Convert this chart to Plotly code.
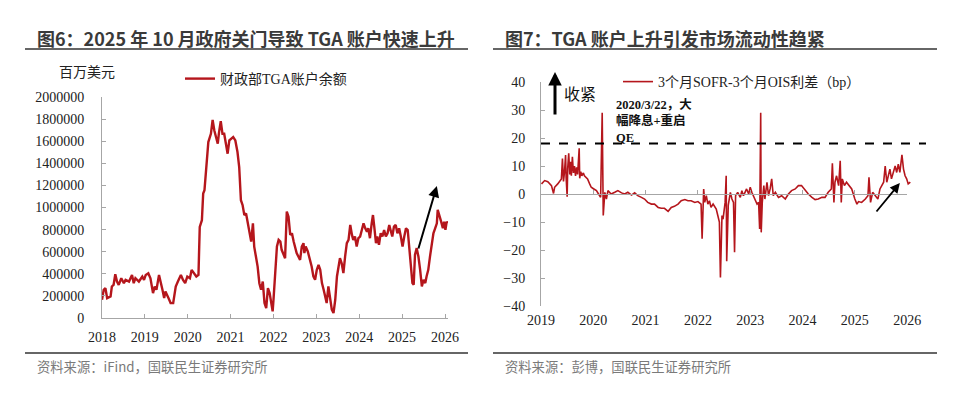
import plotly.graph_objects as go

# ---------------- data ----------------
TGA_X = [2018.00, 2018.04, 2018.08, 2018.12, 2018.20, 2018.23, 2018.27, 2018.31, 2018.35, 2018.39,
         2018.45, 2018.51, 2018.55, 2018.63, 2018.70, 2018.74, 2018.78, 2018.86, 2018.94, 2018.98,
         2019.02, 2019.08, 2019.13, 2019.19, 2019.23, 2019.27, 2019.33, 2019.37, 2019.41, 2019.45,
         2019.48, 2019.55, 2019.60, 2019.66, 2019.72, 2019.77, 2019.84, 2019.89, 2019.94, 2019.99,
         2020.05, 2020.09, 2020.15, 2020.20, 2020.25, 2020.28, 2020.33, 2020.36, 2020.39, 2020.44,
         2020.48, 2020.54, 2020.58, 2020.62, 2020.66, 2020.70, 2020.73, 2020.77, 2020.81, 2020.85,
         2020.89, 2020.93, 2020.97, 2021.01, 2021.06, 2021.11, 2021.16, 2021.20, 2021.24, 2021.28,
         2021.32, 2021.36, 2021.40, 2021.44, 2021.48, 2021.52, 2021.55, 2021.59, 2021.63, 2021.67,
         2021.71, 2021.75, 2021.79, 2021.83, 2021.87, 2021.91, 2021.95, 2021.98, 2022.00, 2022.04,
         2022.08, 2022.12, 2022.16, 2022.19, 2022.23, 2022.27, 2022.31, 2022.35, 2022.39, 2022.43,
         2022.47, 2022.51, 2022.54, 2022.58, 2022.62, 2022.66, 2022.70, 2022.72, 2022.75, 2022.80,
         2022.85, 2022.89, 2022.93, 2022.97, 2023.01, 2023.05, 2023.09, 2023.13, 2023.17, 2023.20,
         2023.24, 2023.28, 2023.32, 2023.36, 2023.40, 2023.44, 2023.48, 2023.52, 2023.55, 2023.59,
         2023.63, 2023.67, 2023.71, 2023.75, 2023.79, 2023.83, 2023.86, 2023.90, 2023.94, 2023.98,
         2024.02, 2024.06, 2024.10, 2024.14, 2024.18, 2024.21, 2024.25, 2024.29, 2024.32, 2024.35,
         2024.39, 2024.42, 2024.46, 2024.50, 2024.54, 2024.58, 2024.62, 2024.66, 2024.70, 2024.73,
         2024.77, 2024.81, 2024.85, 2024.89, 2024.93, 2024.97, 2025.01, 2025.05, 2025.09, 2025.13,
         2025.16, 2025.20, 2025.24, 2025.27, 2025.30, 2025.34, 2025.38, 2025.42, 2025.46, 2025.50,
         2025.54, 2025.57, 2025.61, 2025.65, 2025.69, 2025.73, 2025.77, 2025.81, 2025.83, 2025.87,
         2025.91, 2025.95, 2025.98, 2026.01, 2026.04, 2026.06]
TGA_Y = [165000, 255000, 270000, 180000, 195000, 285000, 300000, 396000, 330000, 300000,
         360000, 315000, 345000, 330000, 390000, 315000, 360000, 330000, 375000, 345000,
         390000, 405000, 360000, 225000, 285000, 255000, 390000, 330000, 255000, 180000,
         240000, 180000, 135000, 135000, 285000, 330000, 390000, 345000, 315000, 375000,
         360000, 435000, 405000, 375000, 390000, 825000, 885000, 1126000, 1156000, 1366000,
         1592000, 1667000, 1793000, 1697000, 1637000, 1577000, 1682000, 1781000, 1667000, 1667000,
         1577000, 1487000, 1607000, 1622000, 1637000, 1607000, 1502000, 1366000, 1066000, 1021000,
         931000, 946000, 856000, 796000, 691000, 856000, 646000, 556000, 465000, 315000,
         255000, 330000, 135000, 90000, 270000, 225000, 105000, 60000, 165000, 436000,
         647000, 707000, 692000, 617000, 572000, 541000, 963000, 917000, 752000, 767000,
         692000, 632000, 587000, 556000, 526000, 647000, 677000, 587000, 647000, 602000,
         526000, 466000, 376000, 346000, 436000, 481000, 436000, 316000, 256000, 196000,
         135000, 286000, 196000, 75000, 45000, 165000, 376000, 496000, 541000, 496000,
         406000, 556000, 677000, 707000, 842000, 752000, 707000, 737000, 647000, 722000,
         737000, 797000, 857000, 812000, 782000, 812000, 722000, 857000, 932000, 827000,
         677000, 737000, 662000, 767000, 737000, 797000, 737000, 767000, 842000, 797000,
         737000, 827000, 842000, 767000, 812000, 737000, 647000, 737000, 812000, 797000,
         647000, 466000, 316000, 301000, 572000, 632000, 556000, 436000, 286000, 346000,
         316000, 376000, 436000, 556000, 647000, 767000, 812000, 857000, 978000, 932000,
         872000, 812000, 872000, 797000, 872000, 857000]

SPREAD_X = [2019.01, 2019.07, 2019.13, 2019.20, 2019.24, 2019.26, 2019.32,
            2019.39, 2019.41, 2019.43, 2019.45, 2019.47, 2019.48, 2019.50, 2019.51, 2019.53, 2019.55,
            2019.57, 2019.58, 2019.60, 2019.62, 2019.64, 2019.66, 2019.68, 2019.70, 2019.73, 2019.74,
            2019.76, 2019.78, 2019.81, 2019.83,
            2019.89, 2019.93, 2019.96, 2020.01, 2020.06, 2020.10, 2020.14,
            2020.17, 2020.19, 2020.22, 2020.25, 2020.28, 2020.34, 2020.41, 2020.47, 2020.54, 2020.60,
            2020.66, 2020.73, 2020.79, 2020.85, 2020.92, 2020.98, 2021.04, 2021.11, 2021.17, 2021.24,
            2021.30, 2021.36, 2021.43, 2021.49, 2021.55, 2021.62, 2021.68, 2021.75, 2021.81, 2021.87,
            2021.94, 2022.00, 2022.06, 2022.08, 2022.11, 2022.13, 2022.16, 2022.19, 2022.22, 2022.25,
            2022.29, 2022.32, 2022.35, 2022.38, 2022.41, 2022.43, 2022.46, 2022.48, 2022.52, 2022.54,
            2022.55, 2022.58, 2022.62, 2022.65, 2022.68, 2022.70, 2022.72, 2022.76, 2022.81, 2022.84,
            2022.87, 2022.90, 2022.93, 2022.97, 2023.00, 2023.03, 2023.06, 2023.09, 2023.13, 2023.16,
            2023.18, 2023.20, 2023.21, 2023.23, 2023.26, 2023.28, 2023.32, 2023.35, 2023.38, 2023.41,
            2023.44, 2023.48, 2023.54, 2023.60, 2023.67, 2023.73, 2023.79, 2023.86, 2023.92, 2023.98,
            2024.05, 2024.11, 2024.18, 2024.24, 2024.30, 2024.37, 2024.43, 2024.49, 2024.55, 2024.57,
            2024.60, 2024.62, 2024.65, 2024.69, 2024.72, 2024.74, 2024.76, 2024.80, 2024.84, 2024.89,
            2024.94, 2025.00, 2025.04, 2025.07, 2025.13, 2025.20, 2025.25, 2025.27, 2025.30, 2025.34,
            2025.39, 2025.44, 2025.48, 2025.51, 2025.55, 2025.58, 2025.61, 2025.64, 2025.67, 2025.70,
            2025.74, 2025.77, 2025.80, 2025.83, 2025.86, 2025.90, 2025.93, 2025.96, 2025.99, 2026.02,
            2026.06]
SPREAD_Y = [3.6, 4.8, 4.4, 3.0, 0.2, 2.4, 3.6,
            5.4, 12.7, 4.5, 8.0, 13.9, 6.0, -1.0, 9.0, 14.5, 7.0,
            11.5, 6.5, 13.3, 7.5, 10.0, 6.5, 9.5, 7.0, 16.3, 5.6,
            8.0, 6.5, 7.5, 6.5,
            5.4, 3.6, 2.4, 1.8, 1.2, 0.0, -1.2,
            29.0, -7.7, 0.6, -1.8, 1.2, 0.0, 0.6, 1.2, 0.4, 0.0,
            0.6, -0.4, 0.4, -0.6, -1.2, -1.8, -3.0, -3.6, -3.6, -4.8,
            -5.1, -5.1, -6.2, -4.8, -4.4, -3.6, -2.4, -2.0, -2.4, -2.4,
            -3.0, -2.7, -3.6, -16.0, 1.8, -3.0, -0.6, -3.6, -2.4, -4.8,
            -3.6, -4.8, -5.4, -7.7, -10.0, -29.8, -7.7, -9.0, -3.0, 6.5,
            -24.0, -4.0, 0.6, -1.8, -3.0, -20.8, -0.6, 0.6, -1.2, 1.2,
            -0.6, 0.6, 1.8, 0.0, 2.4, 0.6, -0.6, -2.4, -3.6, -3.0,
            -12.5, 29.0, -13.7, -3.0, 3.0, -1.8, 4.2, -0.6, 1.8, 5.4,
            -0.6, 0.6, -1.2, -0.6, -1.8, 0.0, 1.2, 1.8, 3.0, 3.0,
            1.2, 0.0, -1.2, -2.0, -1.8, -1.2, -1.2, 0.6, 1.8, 11.0,
            -3.0, 4.2, 6.5, 3.0, 11.9, -3.0, 5.4, 3.0, 4.2, 3.0,
            1.8, -1.8, -3.6, -2.7, -3.0, -1.8, -0.6, 6.0, -3.0, 0.6,
            -0.6, -1.8, 1.8, 3.0, 4.2, 10.0, 4.2, 6.5, 8.9, 5.4,
            8.3, 10.0, 7.7, 10.7, 7.7, 14.0, 8.9, 6.5, 5.4, 3.6,
            4.2]
SPREAD_REF = 18          # dashed reference level
SPREAD_REF_X = [2019, 2026.36]

YEARS_L = [2018, 2019, 2020, 2021, 2022, 2023, 2024, 2025, 2026]
YEARS_R = [2019, 2020, 2021, 2022, 2023, 2024, 2025, 2026]

# arrows (data coordinates)
ARROW_L = dict(x0=2025.37, y0=615000, x1=2025.81, y1=1194000)
ARROW_R = dict(x0=2025.39, y0=-6.8, x1=2025.86, y1=3.9)

# ---------------- style ----------------
W, H = 974, 398
def px(x):
    return x / W
def py(y):
    return 1 - y / H

RED = "#B5161C"
AXC = "#A6A6A6"
SERIF = "Liberation Serif, Noto Sans CJK SC"
SANS = "Noto Sans CJK SC"
TICKFONT = dict(family=SERIF, size=14, color="#222222")

fig = go.Figure()

fig.add_trace(go.Scatter(x=TGA_X, y=TGA_Y, mode="lines", name="财政部TGA账户余额",
                         line=dict(color=RED, width=2.4), xaxis="x", yaxis="y",
                         legend="legend"))
fig.add_trace(go.Scatter(x=SPREAD_X, y=SPREAD_Y, mode="lines", name="3个月SOFR-3个月OIS利差（bp）",
                         line=dict(color=RED, width=1.6), xaxis="x2", yaxis="y2",
                         legend="legend2"))
fig.add_trace(go.Scatter(x=SPREAD_REF_X, y=[SPREAD_REF, SPREAD_REF], mode="lines",
                         line=dict(color="black", width=2, dash="dash"), xaxis="x2", yaxis="y2",
                         showlegend=False, hoverinfo="skip"))
# carrier trace for the zero axis of the right chart
fig.add_trace(go.Scatter(x=[YEARS_R[0], YEARS_R[-1]], y=[0, 0], mode="lines",
                         line=dict(color=AXC, width=1), opacity=0, xaxis="x3", yaxis="y2",
                         showlegend=False, hoverinfo="skip"))

L_DOM_X = [px(102), px(448)]
L_DOM_Y = [py(318), py(97)]
R_DOM_X = [px(541), px(926)]
R_ZERO_DOM_X = [px(541), px(907)]
R_DOM_Y = [py(306), py(82)]

common_axis = dict(showgrid=False, zeroline=False, linecolor=AXC, linewidth=1,
                   ticks="inside", ticklen=4, tickcolor=AXC, tickfont=TICKFONT,
                   automargin=False)

fig.update_layout(
    width=W, height=H, margin=dict(l=0, r=0, t=0, b=0, autoexpand=False),
    paper_bgcolor="white", plot_bgcolor="rgba(0,0,0,0)",
    showlegend=True,
    xaxis=dict(domain=L_DOM_X, range=[2018, 2026.07], anchor="y", showline=True,
               tickvals=YEARS_L, ticktext=[str(v) for v in YEARS_L], ticklabelstandoff=6,
               **common_axis),
    yaxis=dict(domain=L_DOM_Y, range=[0, 2000000], anchor="x", showline=True,
               dtick=200000, tickformat="d", ticklabelstandoff=14, **common_axis),
    xaxis2=dict(domain=R_DOM_X, range=[2019, 2026.36], anchor="y2", showline=False,
                tickvals=YEARS_R, ticktext=[str(v) for v in YEARS_R], ticklabelstandoff=4,
                **{**common_axis, "ticks": ""}),
    yaxis2=dict(domain=R_DOM_Y, range=[-40, 40], anchor="x2", showline=True,
                dtick=10, ticklabelstandoff=12, **common_axis),
    xaxis3=dict(domain=R_ZERO_DOM_X, range=[YEARS_R[0], YEARS_R[-1]], anchor="free",
                position=(R_DOM_Y[0] + R_DOM_Y[1]) / 2, showline=True,
                tickvals=YEARS_R, showticklabels=False, **common_axis),
    legend=dict(x=px(180), y=py(79), xanchor="left", yanchor="middle",
                bgcolor="rgba(0,0,0,0)", font=dict(family=SERIF, size=14, color="#222222"),
                itemwidth=30),
    legend2=dict(x=px(618), y=py(82), xanchor="left", yanchor="middle",
                 bgcolor="rgba(0,0,0,0)", font=dict(family=SERIF, size=14, color="#222222"),
                 itemwidth=30),
)

TITLE_FONT = dict(family=SANS, size=18, color="#3a3a3a", weight="bold")
SRC_FONT = dict(family=SANS, size=13.3, color="#7a7a7a")

annos = [
    dict(text="图6：2025 年 10 月政府关门导致 TGA 账户快速上升", x=px(35), y=py(38),
         xanchor="left", yanchor="middle", font=TITLE_FONT),
    dict(text="图7：TGA 账户上升引发市场流动性趋紧", x=px(503), y=py(38),
         xanchor="left", yanchor="middle", font=TITLE_FONT),
    dict(text="百万美元", x=px(57), y=py(72), xanchor="left", yanchor="middle",
         font=dict(family=SERIF, size=14, color="#222222")),
    dict(text="资料来源：iFind，国联民生证券研究所", x=px(35), y=py(366),
         xanchor="left", yanchor="middle", font=SRC_FONT),
    dict(text="资料来源：彭博，国联民生证券研究所", x=px(503), y=py(366),
         xanchor="left", yanchor="middle", font=SRC_FONT),
    dict(text="收紧", x=px(562), y=py(95), xanchor="left", yanchor="middle",
         font=dict(family=SERIF, size=16, color="#111111")),
    dict(text="<b>2020/3/22，大<br>幅降息+重启<br>QE</b>", x=px(614), y=py(121),
         xanchor="left", yanchor="middle", align="left",
         font=dict(family=SERIF, size=12.5, color="#111111")),
    # upward "tightening" arrow
    dict(text="", x=px(555), y=py(72), ax=0, ay=44, showarrow=True,
         arrowhead=2, arrowsize=0.9, arrowwidth=3, arrowcolor="black"),
    # trend arrows
    dict(text="", x=ARROW_L["x1"], y=ARROW_L["y1"], ax=ARROW_L["x0"], ay=ARROW_L["y0"],
         xref="x", yref="y", axref="x", ayref="y", showarrow=True,
         arrowhead=2, arrowsize=1.1, arrowwidth=2, arrowcolor="black"),
    dict(text="", x=ARROW_R["x1"], y=ARROW_R["y1"], ax=ARROW_R["x0"], ay=ARROW_R["y0"],
         xref="x2", yref="y2", axref="x2", ayref="y2", showarrow=True,
         arrowhead=2, arrowsize=1.1, arrowwidth=1.8, arrowcolor="black"),
]
for a in annos:
    a.setdefault("xref", "paper")
    a.setdefault("yref", "paper")
    a.setdefault("showarrow", False)
    fig.add_annotation(**a)

RULE = dict(color="#666666", width=2)
for x0, x1 in [(25, 468), (493, 937)]:
    for yy in (49, 353):
        fig.add_shape(type="line", xref="paper", yref="paper",
                      x0=px(x0), x1=px(x1), y0=py(yy), y1=py(yy), line=RULE)

# remove the default page margin so the figure sits at the window origin
fig.write_html("out.html",
               config={"displayModeBar": False},
               post_script="document.body.style.margin='0';document.body.style.padding='0';")
